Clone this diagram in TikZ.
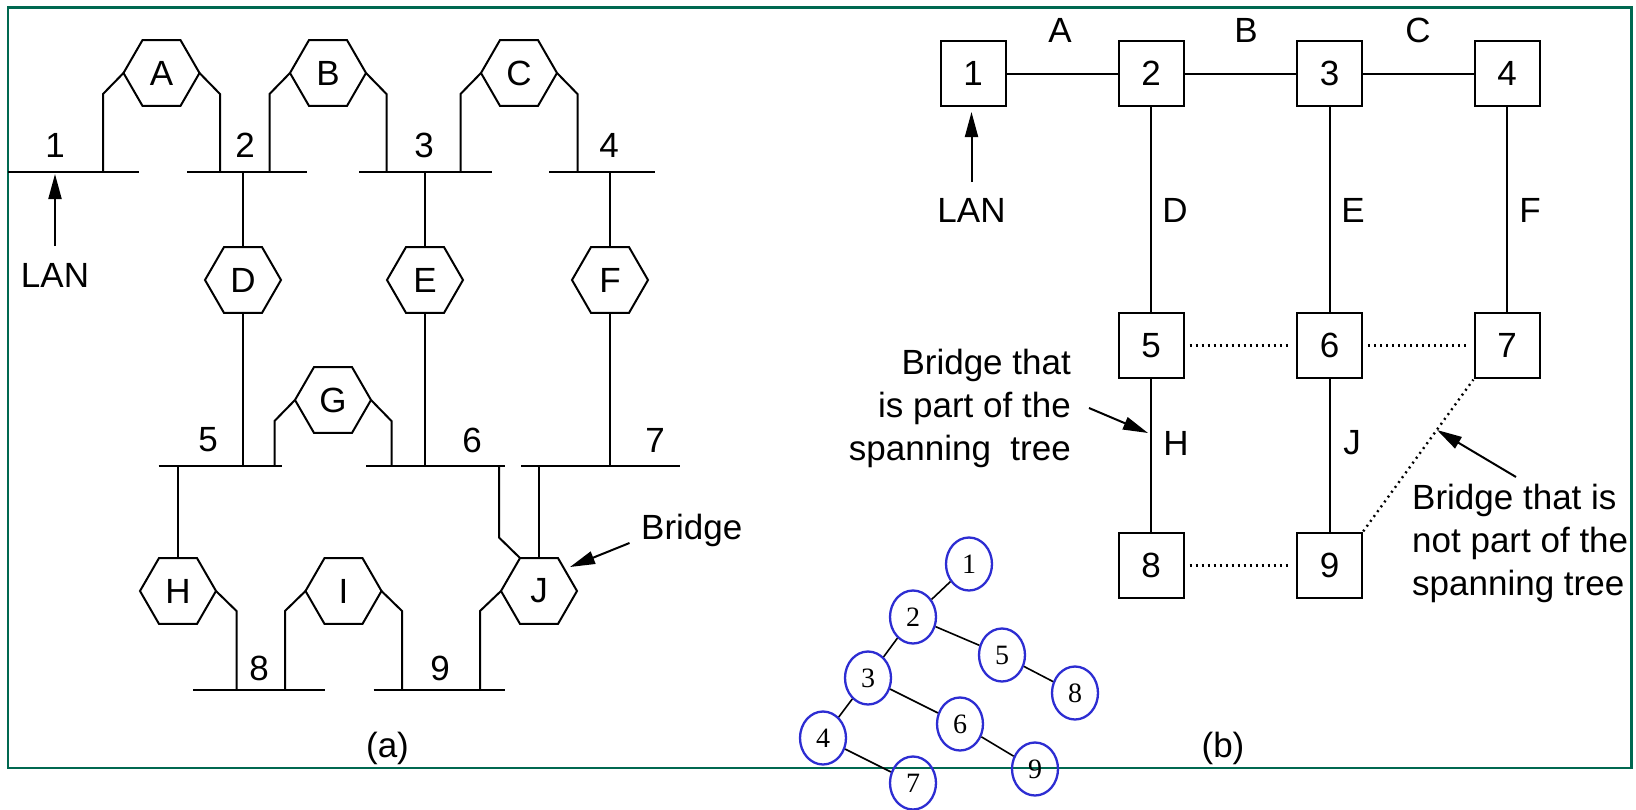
\documentclass[tikz,border=0pt]{standalone}
\usepackage{fontspec}
\setmainfont{Liberation Sans}
\newfontfamily\treefont{Liberation Serif}
\usetikzlibrary{shapes.geometric,arrows.meta}
\definecolor{framegreen}{RGB}{0,104,80}
\definecolor{treeblue}{RGB}{45,45,210}
\tikzset{
  ln/.style={line width=2pt},
  hexa/.style={draw, line width=2pt, regular polygon, regular polygon sides=6,
    minimum size=76pt, inner sep=0pt, outer sep=0pt, font=\fontsize{35}{40}\selectfont},
  lbl/.style={inner sep=0pt, font=\fontsize{35}{43}\selectfont},
  lanbox/.style={draw, line width=2pt, minimum width=65pt, minimum height=65pt,
    inner sep=0pt, outer sep=0pt, font=\fontsize{35}{40}\selectfont},
  dotl/.style={line width=2.4pt, dash pattern=on 2pt off 4pt, shorten <=6pt, shorten >=6pt},
  arr/.style={line width=2pt, -{Triangle[length=25pt,width=13pt]}},
  tnode/.style={draw=treeblue, line width=2.3pt, ellipse, minimum width=46pt,
    minimum height=53pt, inner sep=0pt, font=\treefont\fontsize{28}{30}\selectfont},
  tedge/.style={line width=1.6pt},
}
\begin{document}
\begin{tikzpicture}[x=1pt,y=-1pt]
\useasboundingbox (0,0) rectangle (1636,809);
\draw[framegreen, line width=2.2pt] (8,7.5) rectangle (1631.5,768);

% ---------------- panel (a) ----------------
% LAN segments
\draw[ln] (8,172) -- (139,172);
\draw[ln] (187,172) -- (307,172);
\draw[ln] (359,172) -- (492,172);
\draw[ln] (549,172) -- (655,172);
\draw[ln] (158.5,466) -- (282,466);
\draw[ln] (366,466) -- (504.5,466);
\draw[ln] (521,466) -- (679.5,466);
\draw[ln] (193,690) -- (324.5,690);
\draw[ln] (373.7,690) -- (505.4,690);

% LAN numbers
\node[lbl] (l1) at (55,145) {1};
\node[lbl] (l2) at (245,145) {2};
\node[lbl] (l3) at (424,145) {3};
\node[lbl] (l4) at (609,145) {4};
\node[lbl] (l5) at (208,440) {5};
\node[lbl] (l6) at (472,440) {6};
\node[lbl] (l7) at (655,440) {7};
\node[lbl] (l8) at (259,668) {8};
\node[lbl] (l9) at (440,668) {9};

% bridges
\node[hexa] (A) at (161.5,73) {A};
\node[hexa] (B) at (328,73) {B};
\node[hexa] (C) at (519,73) {C};
\node[hexa] (D) at (243,280) {D};
\node[hexa] (E) at (425,280) {E};
\node[hexa] (F) at (610,280) {F};
\node[hexa] (G) at (333,400) {G};
\node[hexa] (H) at (178,591) {H};
\node[hexa] (I) at (343.5,591) {I};
\node[hexa] (J) at (539,591) {J};

% bridge connections
\foreach \b in {A,B,C}{
  \draw[ln] (\b.west) -- ++(-20.5,21) -- ++(0,78);
  \draw[ln] (\b.east) -- ++(20.5,21) -- ++(0,78);
}
\foreach \b/\x in {D/243,E/425,F/610}{
  \draw[ln] (\b.north) -- (\x,172);
  \draw[ln] (\b.south) -- (\x,466);
}
\draw[ln] (G.west) -- ++(-20.5,21) -- ++(0,45);
\draw[ln] (G.east) -- ++(20.5,21) -- ++(0,45);
\draw[ln] (H.north) -- (178,466);
\draw[ln] (H.east) -- ++(20.5,20) -- ++(0,79);
\draw[ln] (I.west) -- ++(-20.5,20) -- ++(0,79);
\draw[ln] (I.east) -- ++(20.5,20) -- ++(0,79);
\draw[ln] (J.north) -- (539,466);
\draw[ln] (J.west) -- ++(-21,20) -- ++(0,79);
\draw[ln] ([shift={(-19,-33)}]J.center) -- (499,537.5) -- (499,466);

% LAN arrow and bridge arrow
\node[lbl] (lanA) at (55,275) {LAN};
\coordinate (lanAs) at (55,246);
\coordinate (lanAt) at (55,174);
\draw[arr] (lanAs) -- (lanAt);
\node[lbl, anchor=west] (bridgeA) at (641,530) {Bridge};
\coordinate (brs) at (629.5,543);
\coordinate (brt) at (570,567);
\draw[arr] (brs) -- (brt);
\node[lbl] (capA) at (387.5,748) {(a)};

% ---------------- panel (b) ----------------
\node[lanbox] (n1) at (973,73.5) {1};
\node[lanbox] (n2) at (1151,73.5) {2};
\node[lanbox] (n3) at (1329.5,73.5) {3};
\node[lanbox] (n4) at (1507,73.5) {4};
\node[lanbox] (n5) at (1151,345.5) {5};
\node[lanbox] (n6) at (1329.5,345.5) {6};
\node[lanbox] (n7) at (1507,345.5) {7};
\node[lanbox] (n8) at (1151,565.5) {8};
\node[lanbox] (n9) at (1329.5,565.5) {9};

\draw[ln] (n1) -- (n2);
\draw[ln] (n2) -- (n3);
\draw[ln] (n3) -- (n4);
\draw[ln] (n2) -- (n5);
\draw[ln] (n3) -- (n6);
\draw[ln] (n4) -- (n7);
\draw[ln] (n5) -- (n8);
\draw[ln] (n6) -- (n9);
\draw[dotl] (n5) -- (n6);
\draw[dotl] (n6) -- (n7);
\draw[dotl] (n8) -- (n9);
\draw[dotl, shorten <=2pt, shorten >=2pt] (n9.north east) -- (n7.south west);

\node[lbl] (bA) at (1060,30) {A};
\node[lbl] (bB) at (1246,30) {B};
\node[lbl] (bC) at (1418,30) {C};
\node[lbl] (bD) at (1175,210) {D};
\node[lbl] (bE) at (1353,210) {E};
\node[lbl] (bF) at (1530,210) {F};
\node[lbl] (bH) at (1176,443) {H};
\node[lbl] (bJ) at (1352,443) {J};

\node[lbl] (lanB) at (971.5,210) {LAN};
\coordinate (lanBs) at (971.5,182);
\coordinate (lanBt) at (971.5,112);
\draw[arr] (lanBs) -- (lanBt);

\node[lbl, align=right, anchor=east] (txtIn) at (1071,408) {Bridge that\\is part of the\\spanning\ \ tree};
\coordinate (ins) at (1089,408);
\coordinate (int) at (1148,433);
\draw[arr] (ins) -- (int);

\node[lbl, align=left, anchor=west] (txtOut) at (1412,543) {Bridge that is\\not part of the\\spanning tree};
\coordinate (outs) at (1516,477);
\coordinate (outt) at (1437,430);
\draw[arr] (outs) -- (outt);

\node[lbl] (capB) at (1223,748) {(b)};

% ---------------- tree ----------------
\node[tnode] (t1) at (969,564) {1};
\node[tnode] (t2) at (913,617) {2};
\node[tnode] (t3) at (868,678) {3};
\node[tnode] (t4) at (823,738) {4};
\node[tnode] (t5) at (1002,655) {5};
\node[tnode] (t6) at (960,724) {6};
\node[tnode] (t7) at (913,783) {7};
\node[tnode] (t8) at (1075,693) {8};
\node[tnode] (t9) at (1035,769) {9};
\draw[tedge] (t1) -- (t2);
\draw[tedge] (t2) -- (t3);
\draw[tedge] (t2) -- (t5);
\draw[tedge] (t3) -- (t4);
\draw[tedge] (t3) -- (t6);
\draw[tedge] (t4) -- (t7);
\draw[tedge] (t5) -- (t8);
\draw[tedge] (t6) -- (t9);
\end{tikzpicture}
\end{document}
